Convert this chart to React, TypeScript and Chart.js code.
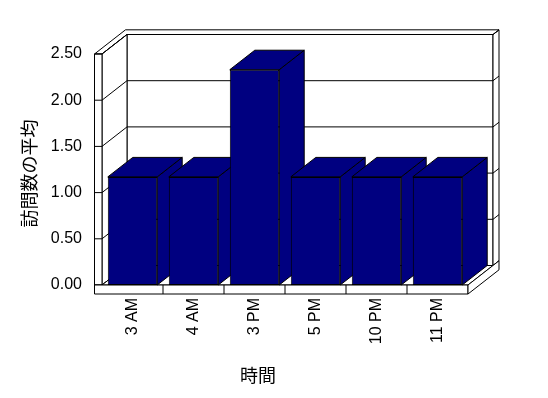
import React, { useEffect, useRef } from 'react';
import { Chart, registerables } from 'chart.js';

Chart.register(...registerables);

// ---- data ----
const categories = ['3 AM', '4 AM', '3 PM', '5 PM', '10 PM', '11 PM'];
const averageVisits = [1.17, 1.17, 2.33, 1.17, 1.17, 1.17];
const yTickValues = [0, 0.5, 1, 1.5, 2, 2.5];
const xTitle = '時間';
const yTitle = '訪問数の平均';

// ---- style ----
const NAVY = '#000080';
const DX = 25;
const DY = -19.5;
const BACK_T = 0.24;
const LEFT_WALL = 7.5;
const FLOOR_T = 9;
const FONT = '"Liberation Sans", Arial, sans-serif';
const CJK = '"Noto Sans CJK JP", "Noto Sans CJK SC", sans-serif';

type Pt = [number, number];

const threeD = {
  id: 'threeD',
  beforeDatasetsDraw(chart: any) {
    const { ctx, chartArea: a, scales } = chart;
    const ys = scales.y;
    const xs = scales.x;
    const L = a.left, R = a.right, T = a.top, B = a.bottom;
    const bx = DX * (1 + BACK_T), by = DY * (1 + BACK_T);
    ctx.save();
    ctx.lineWidth = 1;
    ctx.strokeStyle = '#000';
    const poly = (pts: Pt[], fill: string | null = '#fff') => {
      ctx.beginPath();
      pts.forEach(([x, y], i) => (i ? ctx.lineTo(x, y) : ctx.moveTo(x, y)));
      ctx.closePath();
      if (fill) {
        ctx.fillStyle = fill;
        ctx.fill();
      }
      ctx.stroke();
    };
    const line = (x1: number, y1: number, x2: number, y2: number) => {
      ctx.beginPath();
      ctx.moveTo(x1, y1);
      ctx.lineTo(x2, y2);
      ctx.stroke();
    };
    // back wall front face
    poly([[L + DX, T + DY], [R + DX, T + DY], [R + DX, B + DY], [L + DX, B + DY]]);
    // back wall right face
    poly([[R + DX, T + DY], [R + bx, T + by], [R + bx, B + by], [R + DX, B + DY]]);
    // top outline of walls
    poly([
      [L - LEFT_WALL, T], [L, T], [L + DX, T + DY], [R + DX, T + DY],
      [R + bx, T + by], [L - LEFT_WALL + bx, T + by],
    ]);
    // left wall inner face
    poly([[L, T], [L + DX, T + DY], [L + DX, B + DY], [L, B]]);
    // left wall front face
    poly([[L - LEFT_WALL, T], [L, T], [L, B], [L - LEFT_WALL, B]]);
    // gridlines & ticks
    yTickValues.forEach((v) => {
      const y = ys.getPixelForValue(v);
      line(L, y, L + DX, y + DY);
      line(L + DX, y + DY, R + DX, y + DY);
      line(L - LEFT_WALL, y, L, y);
      line(R + DX, y + DY, R + bx, y + by);
    });
    // floor top
    poly([[L, B], [R, B], [R + DX, B + DY], [L + DX, B + DY]]);
    // floor front
    poly([[L - LEFT_WALL, B], [R, B], [R, B + FLOOR_T], [L - LEFT_WALL, B + FLOOR_T]]);
    // floor right side
    poly([[R, B], [R + bx, B + by], [R + bx, B + by + FLOOR_T], [R, B + FLOOR_T]]);
    // category separators on floor front
    for (let i = 1; i < categories.length; i++) {
      const x = (xs.getPixelForValue(i - 1) + xs.getPixelForValue(i)) / 2;
      line(x, B, x, B + FLOOR_T);
    }
    // bar sides & tops
    const meta = chart.getDatasetMeta(0);
    meta.data.forEach((bar: any) => {
      const { x, y, base, width } = bar.getProps(['x', 'y', 'base', 'width'], true);
      const x0 = x - width / 2, x1 = x + width / 2;
      poly([[x1, y], [x1 + DX, y + DY], [x1 + DX, base + DY], [x1, base]], NAVY);
      poly([[x0, y], [x1, y], [x1 + DX, y + DY], [x0 + DX, y + DY]], NAVY);
    });
    ctx.restore();
  },
  afterDraw(chart: any) {
    const { ctx, chartArea: a } = chart;
    ctx.save();
    ctx.fillStyle = '#000';
    ctx.font = `18px ${CJK}`;
    ctx.textAlign = 'center';
    ctx.textBaseline = 'middle';
    ctx.fillText(xTitle, a.left + 156, a.bottom + 90);
    ctx.translate(a.left - 73, (a.top + a.bottom) / 2 + 4);
    ctx.rotate(-Math.PI / 2);
    ctx.fillText(yTitle, 0, 0);
    ctx.restore();
  },
};

export default function App() {
  const ref = useRef<HTMLCanvasElement>(null);
  useEffect(() => {
    if (!ref.current) return;
    const chart = new Chart(ref.current, {
      type: 'bar',
      data: {
        labels: categories,
        datasets: [
          {
            data: averageVisits,
            backgroundColor: NAVY,
            borderColor: '#000',
            borderWidth: 1,
            borderSkipped: false,
            categoryPercentage: 1,
            barPercentage: 0.81,
          },
        ],
      },
      options: {
        animation: false,
        responsive: false,
        layout: { padding: { left: 0, right: 80, top: 54, bottom: 0 } },
        plugins: {
          legend: { display: false },
          tooltip: { enabled: false },
          title: { display: false },
        },
        scales: {
          x: {
            grid: { display: false, drawTicks: false },
            border: { display: false },
            ticks: {
              minRotation: 90,
              maxRotation: 90,
              autoSkip: false,
              padding: 13,
              color: '#000',
              font: { family: FONT, size: 16 },
            },
            afterFit: (s: any) => {
              s.height = 113;
            },
          },
          y: {
            min: 0,
            max: 2.5,
            grid: { display: false, drawTicks: false },
            border: { display: false },
            afterBuildTicks: (s: any) => {
              s.ticks = yTickValues.map((v) => ({ value: v }));
            },
            ticks: {
              padding: 20,
              color: '#000',
              font: { family: FONT, size: 16 },
              callback: (v: any) => Number(v).toFixed(2),
            },
            afterFit: (s: any) => {
              s.width = 102;
            },
          },
        },
      },
      plugins: [threeD],
    });
    return () => chart.destroy();
  }, []);
  return (
    <div style={{ position: 'absolute', left: 0, top: 0, width: 548, height: 398, background: '#fff' }}>
      <canvas ref={ref} width={548} height={398} style={{ display: 'block' }} />
    </div>
  );
}
